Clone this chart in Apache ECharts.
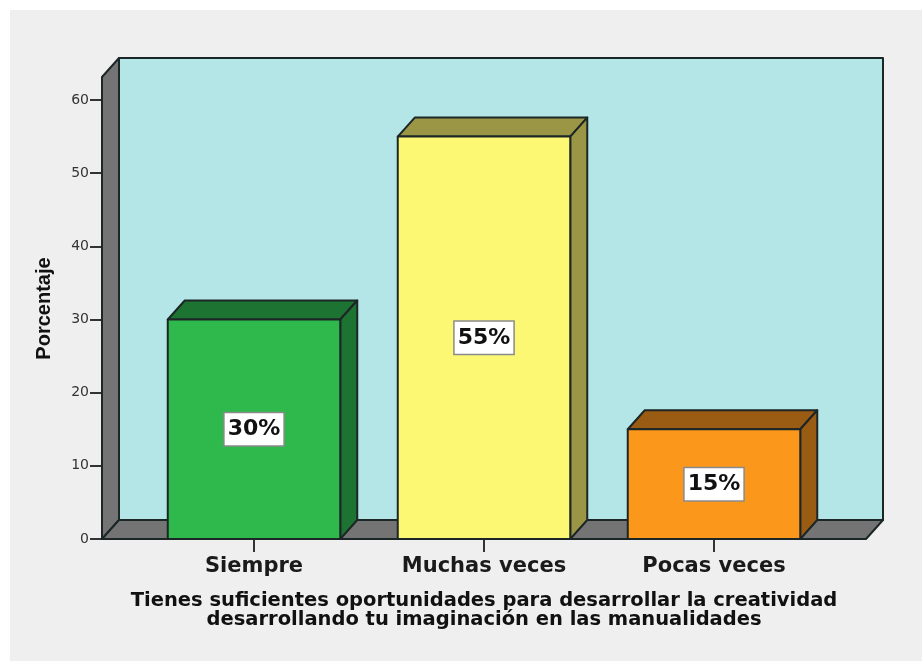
<!DOCTYPE html>
<html>
<head>
<meta charset="utf-8">
<title>Porcentaje</title>
<script src="https://cdn.jsdelivr.net/npm/echarts@6/dist/echarts.min.js"></script>
<style>
  html, body { margin: 0; padding: 0; background: #fff; }
  #chart { width: 922px; height: 661px; }
</style>
</head>
<body>
<div id="chart"></div>
<script>
const categories = ["Siempre", "Muchas veces", "Pocas veces"];
const percentages = [30, 55, 15];
const barColors = ["#2fb84b", "#fcf874", "#fb981c"];
const barSideColors = ["#1d7332", "#9a9646", "#9a5c12"];
const axisTitle = "Tienes suficientes oportunidades para desarrollar la creatividad\ndesarrollando tu imaginación en las manualidades";

// 3d look: how far the back plane sits from the front one, in pixels
const depthX = 17;
const depthY = 19;
const edge = "#1c2626";
const floorOverhang = 37;
const wallOverhang = 23;

const chart = echarts.init(document.getElementById("chart"));

function poly(points, fill) {
  return {
    type: "polygon",
    shape: { points },
    style: { fill, stroke: edge, lineWidth: 2, lineJoin: "round" },
  };
}

function renderFrame(params, api) {
  const sys = params.coordSys;
  const left = sys.x - floorOverhang;
  const right = sys.x + sys.width + floorOverhang;
  const bottom = sys.y + sys.height;
  const top = sys.y - wallOverhang;
  return {
    type: "group",
    children: [
      poly([[left + depthX, top - depthY], [right + depthX, top - depthY], [right + depthX, bottom - depthY], [left + depthX, bottom - depthY]], "#b5e6e7"),
      poly([[left, top], [left + depthX, top - depthY], [left + depthX, bottom - depthY], [left, bottom]], "#747474"),
      poly([[left, bottom], [left + depthX, bottom - depthY], [right + depthX, bottom - depthY], [right, bottom]], "#747474"),
    ],
  };
}

function renderBar(params, api) {
  const i = api.value(0);
  const value = api.value(1);
  const base = api.coord([i, 0]);
  const head = api.coord([i, value]);
  const half = (api.size([1, 0])[0] * 0.75) / 2;
  const l = base[0] - half;
  const r = base[0] + half;
  return {
    type: "group",
    children: [
      poly([[l, head[1]], [l + depthX, head[1] - depthY], [r + depthX, head[1] - depthY], [r, head[1]]], barSideColors[i]),
      poly([[r, head[1]], [r + depthX, head[1] - depthY], [r + depthX, base[1] - depthY], [r, base[1]]], barSideColors[i]),
      poly([[l, head[1]], [r, head[1]], [r, base[1]], [l, base[1]]], barColors[i]),
      {
        type: "text",
        z2: 10,
        style: {
          x: base[0],
          y: (base[1] + head[1]) / 2,
          text: value + "%",
          align: "center",
          verticalAlign: "middle",
          font: "bold 22px 'DejaVu Sans'",
          fill: "#111",
          backgroundColor: "#fff",
          borderColor: "#8a8a8a",
          borderWidth: 1.5,
          padding: [5, 3, 5, 3],
        },
      },
    ],
  };
}

chart.setOption({
  animation: false,
  backgroundColor: "#fff",
  graphic: [
    { type: "rect", z: -10, shape: { x: 10, y: 10, width: 912, height: 651 }, style: { fill: "#efefef" } },
  ],
  grid: { left: 139, top: 100, width: 690, height: 439 },
  xAxis: {
    type: "category",
    data: categories,
    axisLine: { show: false },
    axisTick: { show: true, alignWithLabel: true, length: 13, lineStyle: { color: "#333", width: 2 } },
    axisLabel: { margin: 17, fontFamily: "DejaVu Sans", fontWeight: "bold", fontSize: 21, color: "#1a1a1a" },
    name: axisTitle,
    nameLocation: "middle",
    nameGap: 52,
    nameTextStyle: { fontFamily: "DejaVu Sans", fontWeight: "bold", fontSize: 19.5, lineHeight: 19, color: "#111" },
  },
  yAxis: {
    type: "value",
    min: 0,
    max: 60,
    interval: 10,
    offset: floorOverhang,
    splitLine: { show: false },
    axisLine: { show: false },
    axisTick: { show: true, length: 12, lineStyle: { color: "#333", width: 2 } },
    axisLabel: { margin: 13, fontFamily: "DejaVu Sans", fontSize: 14, color: "#333" },
    name: "Porcentaje",
    nameLocation: "middle",
    nameGap: 48,
    nameRotate: 90,
    nameTextStyle: { fontFamily: "Liberation Sans", fontWeight: "bold", fontSize: 20, padding: [0, 0, 0, 22], color: "#111" },
  },
  series: [
    { type: "custom", clip: false, z: 1, silent: true, renderItem: renderFrame, data: [[0, 0]] },
    {
      type: "custom",
      clip: false,
      z: 2,
      silent: true,
      renderItem: renderBar,
      encode: { x: 0, y: 1 },
      data: percentages.map((v, i) => [i, v]),
    },
  ],
});
</script>
</body>
</html>
